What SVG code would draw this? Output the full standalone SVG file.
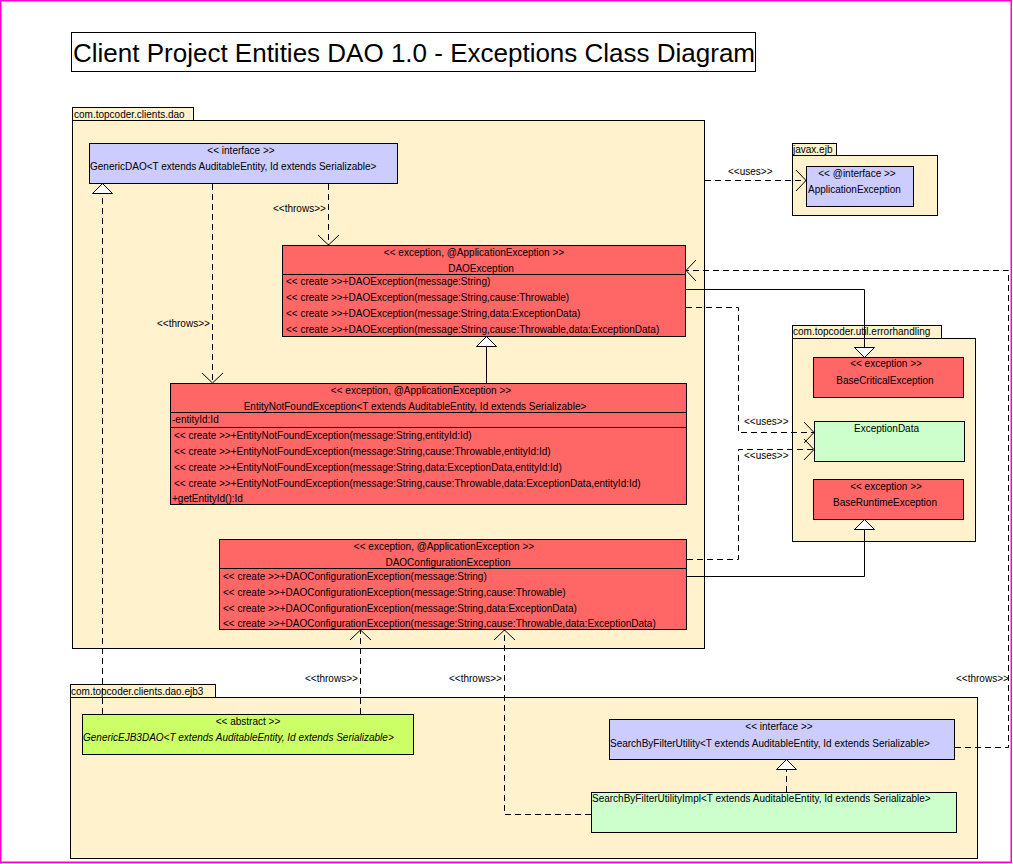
<svg xmlns="http://www.w3.org/2000/svg" width="1013" height="864" viewBox="0 0 1013 864">
<style>
text{font-family:"Liberation Sans",Arial,sans-serif;font-size:10px;fill:#000}
.title{font-size:26px}
.c{text-anchor:middle}
.it{font-style:italic}
.pkg{fill:#fff2cc;stroke:#000;stroke-width:1}
.red{fill:#ff6666;stroke:#000;stroke-width:1}
.lav{fill:#ccccff;stroke:#000;stroke-width:1}
.grn{fill:#ccffcc;stroke:#000;stroke-width:1}
.ygr{fill:#ccff66;stroke:#000;stroke-width:1}
.ln{fill:none;stroke:#000;stroke-width:1}
.dash{fill:none;stroke:#000;stroke-width:1;stroke-dasharray:6,4}
.tri{fill:#fff;stroke:#000;stroke-width:1}
</style>
<defs>
<marker id="open" markerUnits="userSpaceOnUse" viewBox="-12 -12 14 24" refX="0" refY="0" markerWidth="14" markerHeight="24" orient="auto">
<path d="M-10,-10.5 L0,0 L-10,10.5" fill="none" stroke="#000" stroke-width="1"/>
</marker>
</defs>
<rect x="0.75" y="0.75" width="1010.5" height="861.5" fill="#fff" stroke="#ff00cc" stroke-width="1.5"/>

<g id="title">
<rect x="71.5" y="32.5" width="684" height="39" fill="#fff" stroke="#000"/>
<text class="title" x="73" y="62">Client Project Entities DAO 1.0 - Exceptions Class Diagram</text>
</g>

<g id="pkg-dao">
<rect class="pkg" x="72.5" y="107.5" width="121" height="13"/>
<rect class="pkg" x="72.5" y="120.5" width="632" height="528"/>
<text x="74" y="118">com.topcoder.clients.dao</text>
</g>

<g id="pkg-javax-ejb">
<rect class="pkg" x="792.5" y="143.5" width="44" height="12"/>
<rect class="pkg" x="792.5" y="155.5" width="145" height="60"/>
<text x="793" y="153">javax.ejb</text>
</g>

<g id="pkg-errorhandling">
<rect class="pkg" x="792.5" y="325.5" width="149" height="13"/>
<rect class="pkg" x="792.5" y="338.5" width="183" height="203"/>
<text x="793" y="335">com.topcoder.util.errorhandling</text>
</g>

<g id="pkg-ejb3">
<rect class="pkg" x="70.5" y="684.5" width="145" height="13"/>
<rect class="pkg" x="70.5" y="697.5" width="907" height="161"/>
<text x="71" y="695">com.topcoder.clients.dao.ejb3</text>
</g>

<g id="GenericDAO">
<rect class="lav" x="89.5" y="143.5" width="308" height="40"/>
<text class="c" x="241" y="154">&lt;&lt; interface &gt;&gt;</text>
<text x="90" y="170">GenericDAO&lt;T extends AuditableEntity, Id extends Serializable&gt;</text>
</g>

<g id="DAOException">
<rect class="red" x="282.5" y="245.5" width="403" height="91"/>
<line class="ln" x1="282.5" y1="274.5" x2="685.5" y2="274.5"/>
<text class="c" x="474" y="256">&lt;&lt; exception, @ApplicationException &gt;&gt;</text>
<text class="c" x="481" y="271.5">DAOException</text>
<text x="286" y="285">&lt;&lt; create &gt;&gt;+DAOException(message:String)</text>
<text x="286" y="301">&lt;&lt; create &gt;&gt;+DAOException(message:String,cause:Throwable)</text>
<text x="286" y="317">&lt;&lt; create &gt;&gt;+DAOException(message:String,data:ExceptionData)</text>
<text x="286" y="333">&lt;&lt; create &gt;&gt;+DAOException(message:String,cause:Throwable,data:ExceptionData)</text>
</g>

<g id="EntityNotFoundException">
<rect class="red" x="170.5" y="383.5" width="516" height="121"/>
<line class="ln" x1="170.5" y1="412.5" x2="686.5" y2="412.5"/>
<line class="ln" x1="170.5" y1="427.5" x2="686.5" y2="427.5"/>
<text class="c" x="421" y="394">&lt;&lt; exception, @ApplicationException &gt;&gt;</text>
<text class="c" x="415" y="409.5">EntityNotFoundException&lt;T extends AuditableEntity, Id extends Serializable&gt;</text>
<text x="172" y="423">-entityId:Id</text>
<text x="174" y="438.5">&lt;&lt; create &gt;&gt;+EntityNotFoundException(message:String,entityId:Id)</text>
<text x="174" y="454.5">&lt;&lt; create &gt;&gt;+EntityNotFoundException(message:String,cause:Throwable,entityId:Id)</text>
<text x="174" y="470.5">&lt;&lt; create &gt;&gt;+EntityNotFoundException(message:String,data:ExceptionData,entityId:Id)</text>
<text x="174" y="486.5">&lt;&lt; create &gt;&gt;+EntityNotFoundException(message:String,cause:Throwable,data:ExceptionData,entityId:Id)</text>
<text x="172" y="502">+getEntityId():Id</text>
</g>

<g id="DAOConfigurationException">
<rect class="red" x="219.5" y="539.5" width="467" height="90"/>
<line class="ln" x1="219.5" y1="568.5" x2="686.5" y2="568.5"/>
<text class="c" x="444" y="550">&lt;&lt; exception, @ApplicationException &gt;&gt;</text>
<text class="c" x="448" y="565.5">DAOConfigurationException</text>
<text x="223" y="579.5">&lt;&lt; create &gt;&gt;+DAOConfigurationException(message:String)</text>
<text x="223" y="595.5">&lt;&lt; create &gt;&gt;+DAOConfigurationException(message:String,cause:Throwable)</text>
<text x="223" y="611.5">&lt;&lt; create &gt;&gt;+DAOConfigurationException(message:String,data:ExceptionData)</text>
<text x="223" y="627">&lt;&lt; create &gt;&gt;+DAOConfigurationException(message:String,cause:Throwable,data:ExceptionData)</text>
</g>

<g id="ApplicationException">
<rect class="lav" x="806.5" y="166.5" width="107" height="40"/>
<text class="c" x="857" y="177">&lt;&lt; @interface &gt;&gt;</text>
<text x="808" y="193">ApplicationException</text>
</g>

<g id="BaseCriticalException">
<rect class="red" x="813.5" y="357.5" width="150" height="40"/>
<text class="c" x="886" y="367">&lt;&lt; exception &gt;&gt;</text>
<text class="c" x="885" y="384">BaseCriticalException</text>
</g>

<g id="ExceptionData">
<rect class="grn" x="814.5" y="421.5" width="150" height="40"/>
<text class="c" x="886.5" y="432">ExceptionData</text>
</g>

<g id="BaseRuntimeException">
<rect class="red" x="813.5" y="479.5" width="150" height="40"/>
<text class="c" x="886" y="490">&lt;&lt; exception &gt;&gt;</text>
<text class="c" x="885" y="506">BaseRuntimeException</text>
</g>

<g id="GenericEJB3DAO">
<rect class="ygr" x="82.5" y="714.5" width="331" height="40"/>
<text class="c" x="248" y="724.5">&lt;&lt; abstract &gt;&gt;</text>
<text class="it" x="83" y="741">GenericEJB3DAO&lt;T extends AuditableEntity, Id extends Serializable&gt;</text>
</g>

<g id="SearchByFilterUtility">
<rect class="lav" x="609.5" y="719.5" width="345" height="40"/>
<text class="c" x="779" y="730">&lt;&lt; interface &gt;&gt;</text>
<text x="610" y="746.5">SearchByFilterUtility&lt;T extends AuditableEntity, Id extends Serializable&gt;</text>
</g>

<g id="SearchByFilterUtilityImpl">
<rect class="grn" x="591.5" y="792.5" width="365" height="40"/>
<text x="592" y="802">SearchByFilterUtilityImpl&lt;T extends AuditableEntity, Id extends Serializable&gt;</text>
</g>

<g id="connectors">
<!-- GenericEJB3DAO realizes GenericDAO -->
<path class="dash" d="M102.5,714 V193"/>
<polygon class="tri" points="102.5,183.5 92.5,193.5 112.5,193.5"/>
<!-- GenericDAO throws EntityNotFoundException -->
<path class="dash" d="M212.5,184 V383" marker-end="url(#open)"/>
<text x="157" y="327">&lt;&lt;throws&gt;&gt;</text>
<!-- GenericDAO throws DAOException -->
<path class="dash" d="M328.5,184 V245" marker-end="url(#open)"/>
<text x="273" y="212">&lt;&lt;throws&gt;&gt;</text>
<!-- EntityNotFoundException extends DAOException -->
<path class="ln" d="M486.5,383 V346"/>
<polygon class="tri" points="486.5,336.5 476.5,346.5 496.5,346.5"/>
<!-- DAOException extends BaseCriticalException -->
<path class="ln" d="M686,289.5 H864.5 V347"/>
<polygon class="tri" points="864.5,357.5 854.5,347.5 874.5,347.5"/>
<!-- DAOException uses ExceptionData -->
<path class="dash" d="M686,307.5 H738.5 V432.5 H814" marker-end="url(#open)"/>
<text x="744" y="425">&lt;&lt;uses&gt;&gt;</text>
<!-- DAOConfigurationException uses ExceptionData -->
<path class="dash" d="M687,559.5 H738.5 V449.5 H814" marker-end="url(#open)"/>
<text x="744" y="459">&lt;&lt;uses&gt;&gt;</text>
<!-- DAOConfigurationException extends BaseRuntimeException -->
<path class="ln" d="M687,576.5 H864.5 V529"/>
<polygon class="tri" points="864.5,519.5 854.5,529.5 874.5,529.5"/>
<!-- dao uses ApplicationException -->
<path class="dash" d="M705,180.5 H806" marker-end="url(#open)"/>
<text x="728" y="175">&lt;&lt;uses&gt;&gt;</text>
<!-- GenericEJB3DAO throws DAOConfigurationException -->
<path class="dash" d="M360.5,714 V630" marker-end="url(#open)"/>
<text x="305" y="682">&lt;&lt;throws&gt;&gt;</text>
<!-- SearchByFilterUtilityImpl throws DAOConfigurationException -->
<path class="dash" d="M591,814.5 H504.5 V630" marker-end="url(#open)"/>
<text x="449" y="682">&lt;&lt;throws&gt;&gt;</text>
<!-- SearchByFilterUtilityImpl realizes SearchByFilterUtility -->
<path class="dash" d="M786.5,792 V769"/>
<polygon class="tri" points="786.5,759.5 776.5,769.5 796.5,769.5"/>
<!-- SearchByFilterUtility throws DAOException -->
<path class="dash" d="M955,747.5 H1008.5 V270.5 H686" marker-end="url(#open)"/>
<text x="956" y="682">&lt;&lt;throws&gt;&gt;</text>
</g>
</svg>
